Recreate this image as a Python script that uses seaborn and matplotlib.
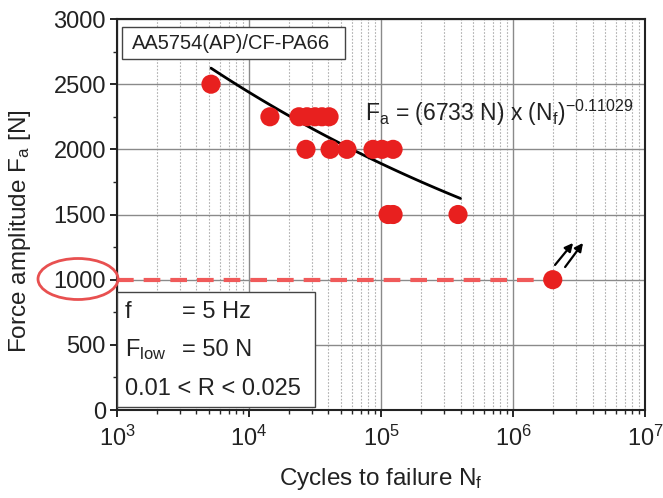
import matplotlib
matplotlib.use("Agg")
import matplotlib.pyplot as plt
import matplotlib.ticker as mticker
from matplotlib.patches import Ellipse, Rectangle
import numpy as np
import pandas as pd
import seaborn as sns

# Fatigue test results
cycles = [5150, 14400, 23900, 27500, 31600, 35700, 40400,
          27000, 41100, 55200, 86900, 101800, 123400,
          113000, 123400, 383000]
force = [2500, 2250, 2250, 2250, 2250, 2250, 2250,
         2000, 2000, 2000, 2000, 2000, 2000,
         1500, 1500, 1500]

# run-out specimen
runout_cycles = [2.0e6]
runout_force = [1000]

# Basquin fit shown on the chart: Fa = 6733 N * Nf^-0.11029
fit_coef = 6733
fit_exp = -0.11029
fit_range = [5150, 400000]

df = pd.DataFrame({'cycles': cycles, 'force': force})
fit_n = np.logspace(np.log10(fit_range[0]), np.log10(fit_range[1]), 50)
df_fit = pd.DataFrame({'cycles': fit_n, 'force': fit_coef * fit_n ** fit_exp})

sns.set_theme(style='ticks')
plt.rcParams['font.family'] = ['Liberation Sans', 'DejaVu Sans']
plt.rcParams['mathtext.fontset'] = 'custom'
plt.rcParams['mathtext.rm'] = 'Liberation Sans'
plt.rcParams['mathtext.it'] = 'Liberation Sans'
plt.rcParams['mathtext.default'] = 'regular'

red = '#e8201f'
txt = '#222222'
fig = plt.figure(figsize=(6.63, 4.98), dpi=100)
ax = fig.add_axes([0.1765, 0.1767, 0.7964, 0.7851])

ax.set_xscale('log')
ax.set_xlim(1e3, 1e7)
ax.set_ylim(0, 3000)

# grid
ax.xaxis.set_major_locator(mticker.LogLocator(base=10, numticks=10))
ax.xaxis.set_minor_locator(mticker.LogLocator(base=10, subs=np.arange(2, 10), numticks=10))
ax.yaxis.set_major_locator(mticker.MultipleLocator(500))
ax.yaxis.set_minor_locator(mticker.MultipleLocator(250))
ax.grid(True, which='major', axis='both', color='#8a8a8a', lw=1.0)
ax.grid(True, which='minor', axis='x', color='#b0b0b0', lw=0.8, ls=(0, (1.5, 1.5)))
ax.set_axisbelow(True)

# run-out level
ax.plot([1e3, runout_cycles[0]], [runout_force[0]] * 2, color='#f05a5a',
        lw=3, dashes=(4, 2.4), zorder=2)

sns.lineplot(data=df_fit, x='cycles', y='force', color='black', lw=2, ax=ax,
             zorder=3, sort=False)
sns.scatterplot(data=df, x='cycles', y='force', color=red, s=190,
                edgecolor='none', ax=ax, zorder=4)
sns.scatterplot(x=runout_cycles, y=runout_force, color=red, s=190,
                edgecolor='none', ax=ax, zorder=4)

# run-out arrows
for (x0, y0), (x1, y1) in [((2.08e6, 1113), (2.85e6, 1282)),
                           ((2.48e6, 1097), (3.39e6, 1282))]:
    ax.annotate('', xy=(x1, y1), xytext=(x0, y0),
                arrowprops=dict(arrowstyle='-|>', color='black', lw=1.6,
                                mutation_scale=12, shrinkA=0, shrinkB=0))

ax.set_xlabel('Cycles to failure N$_f$', fontsize=17.5, color=txt)
ax.set_ylabel('Force amplitude F$_a$ [N]', fontsize=17.5, color=txt)
ax.xaxis.set_label_coords(0.5, -0.142)
ax.yaxis.set_label_coords(-0.159, 0.458)
ax.tick_params(axis='both', which='major', labelsize=17, length=5, width=1.2,
               direction='out', colors='black', labelcolor=txt, pad=3)
ax.tick_params(axis='both', which='minor', length=3, width=1.0, direction='out')
ax.tick_params(axis='x', which='major', pad=6)
for sp in ax.spines.values():
    sp.set_linewidth(1.5)
    sp.set_color(txt)

# material label box
ax.add_patch(Rectangle((5 / 528, (410 - 59) / 391), 223 / 528, 32 / 391,
                       transform=ax.transAxes, fc='white', ec='#444444',
                       lw=1, zorder=5))
ax.text(15 / 528, (410 - 43) / 391, 'AA5754(AP)/CF-PA66', transform=ax.transAxes,
        fontsize=14.5, va='center', ha='left', color=txt, zorder=6)

# fit equation
ax.text(365 / 663, 1 - 113 / 498, 'F$_a$ = (6733 N) x (N$_f$)$^{-0.11029}$',
        transform=fig.transFigure, fontsize=16.5, va='center', ha='left',
        color=txt)

# test condition box
ax.add_patch(Rectangle((0.0, 0.008), 0.375, 0.294, transform=ax.transAxes,
                       fc='white', ec='#444444', lw=1, zorder=5))
rows = [('f', '= 5 Hz', 312), ('F$_{low}$', '= 50 N', 350)]
for lab, val, ypx in rows:
    fig.text(125 / 663, 1 - ypx / 498, lab, fontsize=17, va='center',
             color=txt, zorder=6)
    fig.text(182 / 663, 1 - ypx / 498, val, fontsize=17, va='center',
             color=txt, zorder=6)
fig.text(125 / 663, 1 - 389 / 498, '0.01 < R < 0.025', fontsize=17,
         va='center', color=txt, zorder=6)

# highlight of the 1000 N level
fig.add_artist(Ellipse((78 / 663, 1 - 279 / 498), 80 / 663, 41 / 498,
                       transform=fig.transFigure, fill=False,
                       ec='#e85050', lw=2))

fig.savefig('out.png', dpi=100)
